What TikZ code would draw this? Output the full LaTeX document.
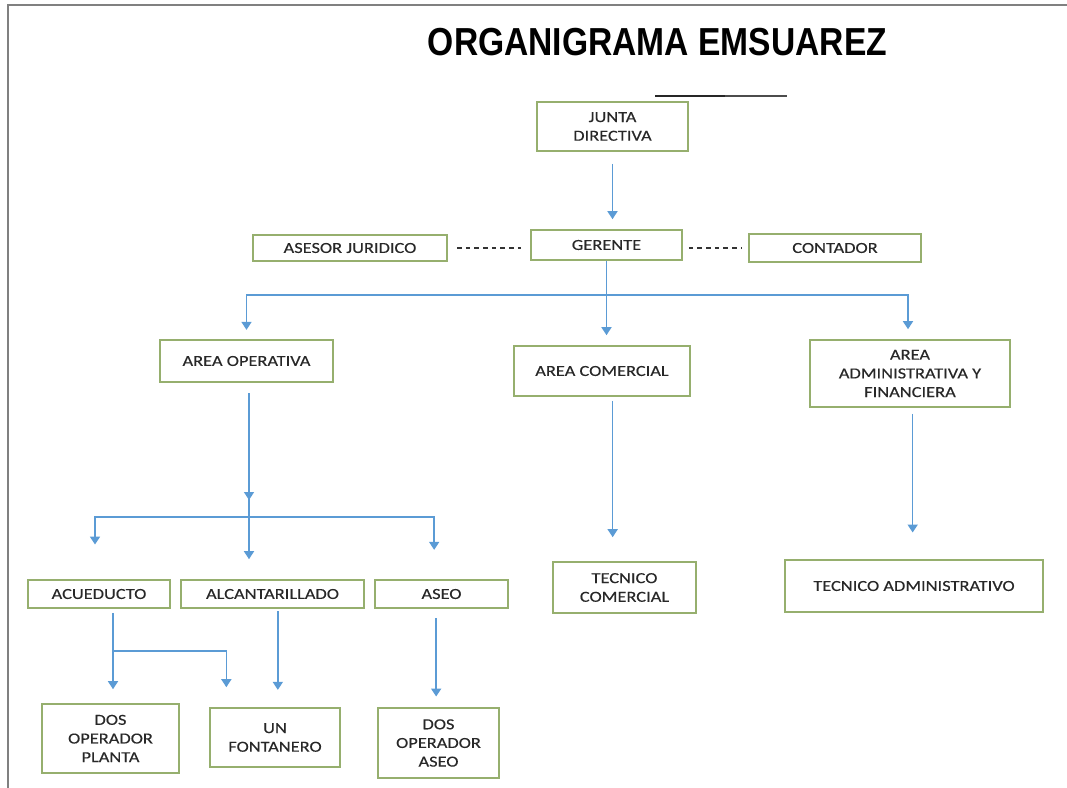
\documentclass[tikz,border=0pt]{standalone}
\usepackage{fontspec}
\usepackage{tikz}
\usetikzlibrary{arrows.meta,calc,positioning}
\newfontfamily\boxfont{Carlito}[FakeStretch=1.2, FakeBold=0.3]
\newfontfamily\titlefont{Liberation Sans}[FakeStretch=0.86]
\definecolor{arrblue}{RGB}{91,155,213}
\definecolor{boxgreen}{RGB}{150,175,110}
\definecolor{txtgray}{RGB}{40,40,40}
\tikzset{
  box/.style={draw=boxgreen, line width=1.2pt, inner sep=0pt, align=center,
    text=txtgray, font=\boxfont\fontsize{11.5}{14}\selectfont},
  arr/.style={draw=arrblue, line width=1.2pt, -{Triangle[width=7.5pt,length=6pt]}},
  assoc/.style={draw=black!80, line width=0.8pt, dash pattern=on 3.5pt off 3pt}
}
\begin{document}
\begin{tikzpicture}[x=0.75pt, y=-0.75pt]
          \useasboundingbox (0,0) rectangle (1067,788);
          \draw[gray, line width=1.5pt] (7.5,788) -- (7.5,5) -- (1067,5);
          \draw[black!85, line width=2pt] (655,96) -- (725,96);
          \draw[black!70, line width=1pt] (725,96) -- (787,96);

          \node[anchor=base, font=\titlefont\bfseries\fontsize{29.3}{32}\selectfont] at (657.5,56) (title) {ORGANIGRAMA EMSUAREZ};

          % top levels
          \node[box, minimum width=113.25pt, minimum height=36.75pt] at (612.5,126.5) (jd) {JUNTA\\DIRECTIVA};
          \node[box, minimum width=113.25pt, minimum height=22.5pt] at (606.5,245) (ger) {GERENTE};
          \node[box, minimum width=145.5pt, minimum height=19.5pt] at (350,248) (ase) {ASESOR JURIDICO};
          \node[box, minimum width=129pt, minimum height=21pt] at (835,248) (con) {CONTADOR};

          % areas
          \node[box, minimum width=129.75pt, minimum height=31.5pt] at (246.5,361) (aop) {AREA OPERATIVA};
          \node[box, minimum width=132pt, minimum height=37.5pt] at (602,371) (acom) {AREA COMERCIAL};
          \node[box, minimum width=150pt, minimum height=50.25pt] at (910,373.5) (aadm) {AREA\\ADMINISTRATIVA Y\\FINANCIERA};

          % services
          \node[box, minimum width=106.5pt, minimum height=21pt] at (99,594) (acu) {ACUEDUCTO};
          \node[box, minimum width=137.25pt, minimum height=21pt] at (272.5,594) (alc) {ALCANTARILLADO};
          \node[box, minimum width=99.75pt, minimum height=21pt] at (441.5,594) (asc) {ASEO};
          \node[box, minimum width=107.25pt, minimum height=38.25pt] at (624.5,587.5) (tcom) {TECNICO\\COMERCIAL};
          \node[box, minimum width=193.5pt, minimum height=39pt] at (914,586) (tadm) {TECNICO ADMINISTRATIVO};

          % staff
          \node[box, minimum width=102.75pt, minimum height=51.75pt] at (110.5,738.5) (dop) {DOS\\OPERADOR\\PLANTA};
          \node[box, minimum width=97.5pt, minimum height=44.25pt] at (275,737.5) (fon) {UN\\FONTANERO};
          \node[box, minimum width=90.75pt, minimum height=52.5pt] at (438.5,743) (das) {DOS\\OPERADOR\\ASEO};

          \coordinate (bus1) at (607,295);
          \coordinate (mid2) at (249,500);
          \coordinate (bus2) at (249,517);
          \coordinate (br3) at (113,651);

          \draw[arr, shorten <=9pt, shorten >=7.5pt] (jd.south) -- (jd.south |- ger.north);
          \draw[assoc, shorten <=7pt, shorten >=7pt] (ase.east) -- (ase.east -| ger.west);
          \draw[assoc, shorten <=4.5pt, shorten >=5pt] (con.west -| ger.east) -- (con.west);

          \draw[arr, shorten >=7.5pt] (ger.south) -- (ger.south |- acom.north);
          \draw[arr, shorten >=7pt] (bus1) -| (aop.north);
          \draw[arr, shorten >=7.5pt] (bus1) -| ([xshift=-1.5pt]aadm.north);

          \draw[arr, shorten <=8pt] (aop.south -| mid2) -- (mid2);
          \draw[arr, shorten >=15pt] ([yshift=2pt]mid2) -- (mid2 |- alc.north);
          \draw[arr, shorten >=26pt] (bus2) -| ([xshift=-3pt]acu.north);
          \draw[arr, shorten >=22pt] (bus2) -| ([xshift=-5.5pt]asc.north);

          \draw[arr, shorten <=3pt, shorten >=18pt] ([xshift=8pt]acom.south) -- ([xshift=8pt]acom.south |- tcom.north);
          \draw[arr, shorten <=4.5pt, shorten >=20pt] ([xshift=2pt]aadm.south) -- ([xshift=2pt]aadm.south |- tadm.north);

          \draw[arr, shorten <=3pt, shorten >=10.5pt] ([xshift=10.5pt]acu.south) -- ([xshift=10.5pt]acu.south |- dop.north);
          \draw[arr, shorten >=15pt] (br3) -| ([xshift=-36.5pt]fon.north);
          \draw[arr, shorten <=2pt, shorten >=13pt] ([xshift=4pt]alc.south) -- ([xshift=4pt]alc.south |- fon.north);
          \draw[arr, shorten <=7pt, shorten >=8pt] ([xshift=-4pt]asc.south) -- ([xshift=-4pt]asc.south |- das.north);
        \end{tikzpicture}
\end{document}
